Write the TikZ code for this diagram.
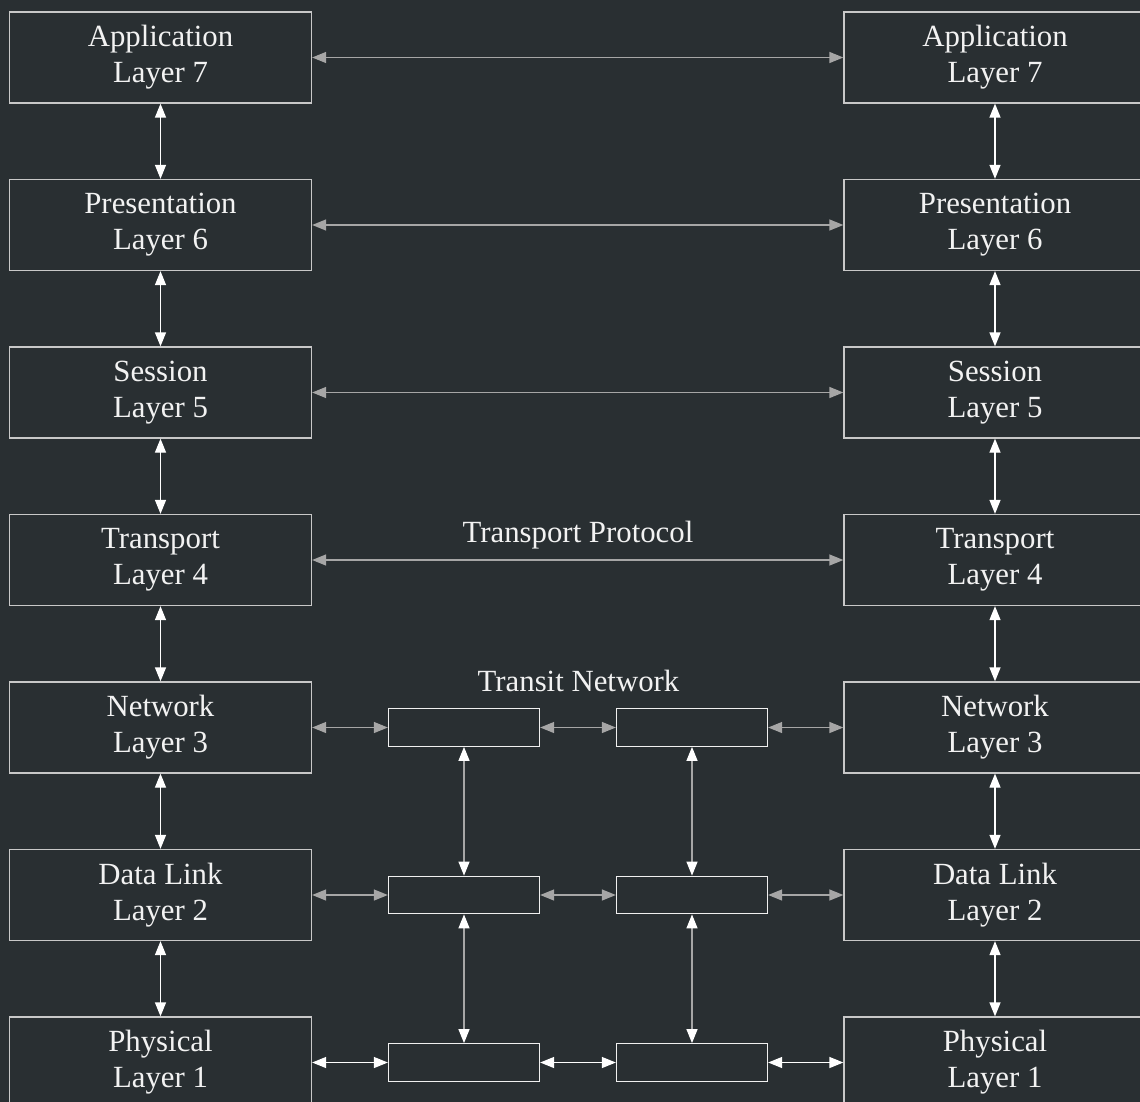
\documentclass[tikz,border=0pt]{standalone}
\usepackage{fontspec}
\setmainfont{Liberation Serif}
\usetikzlibrary{arrows.meta}

\definecolor{bgdark}{RGB}{41,47,50}
\definecolor{boxline}{RGB}{200,200,200}
\definecolor{arrgray}{RGB}{166,166,166}
\definecolor{txtlight}{RGB}{242,242,242}

\tikzset{
	layer/.style={draw=boxline, line width=1.3pt, minimum width=302pt, minimum height=91pt, align=center, text=txtlight},
	transit/.style={draw=white!94!black, line width=1.3pt, minimum width=151pt, minimum height=37.5pt},
	tip/.style={Triangle[length=14pt, width=11pt]},
	hline/.style={draw=arrgray, line width=1.3pt, {Triangle[length=14pt, width=11pt]}-{Triangle[length=14pt, width=11pt]}},
	wline/.style={draw=white, line width=1.3pt, {Triangle[length=14pt, width=11pt]}-{Triangle[length=14pt, width=11pt]}},
	tline/.style={draw=arrgray, line width=1.3pt, {Triangle[length=14pt, width=11pt, color=white]}-{Triangle[length=14pt, width=11pt, color=white]}},
	lbl/.style={anchor=base, text=txtlight}
}

\begin{document}
\begin{tikzpicture}[x=1pt, y=-1pt, every node/.style={font=\fontsize{30.8}{36}\selectfont}]
			\useasboundingbox (0,0) rectangle (1140,1102);
			\fill[bgdark] (0,0) rectangle (1140,1102);
			\clip (0,0) rectangle (1140,1102);
			
			% the two stacks
			\foreach \n/\name in {7/Application,6/Presentation,5/Session,4/Transport,3/Network,2/Data Link,1/Physical} {
				\node[layer] (L\n) at (160.5, {57.5+(7-\n)*167.5}) {\name\\Layer \n};
				\node[layer] (R\n) at (995, {57.5+(7-\n)*167.5}) {\name\\Layer \n};
			}
			\foreach \a/\b in {7/6,6/5,5/4,4/3,3/2,2/1} {
				\draw[wline] (L\a) -- (L\b);
				\draw[wline] (R\a) -- (R\b);
			}
			\foreach \n in {7,6,5,4}
				\draw[hline] (L\n) -- (R\n);
			\node[lbl] (tp) at (578,542.7) {Transport Protocol};
			
			% transit network
			\foreach \n in {3,2,1} {
				\node[transit] (A\n) at (464, {57.5+(7-\n)*167.5}) {};
				\node[transit] (B\n) at (692, {57.5+(7-\n)*167.5}) {};
			}
			\node[lbl] (tn) at (578.5,691.7) {Transit Network};
			\foreach \n in {3,2} {
				\draw[hline] (L\n) -- (A\n);
				\draw[hline] (A\n) -- (B\n);
				\draw[hline] (B\n) -- (R\n);
			}
			\draw[wline] (L1) -- (A1);
			\draw[wline] (A1) -- (B1);
			\draw[wline] (B1) -- (R1);
			\draw[tline] (A3) -- (A2);
			\draw[tline] (A2) -- (A1);
			\draw[tline] (B3) -- (B2);
			\draw[tline] (B2) -- (B1);
			
		\end{tikzpicture}
\end{document}
